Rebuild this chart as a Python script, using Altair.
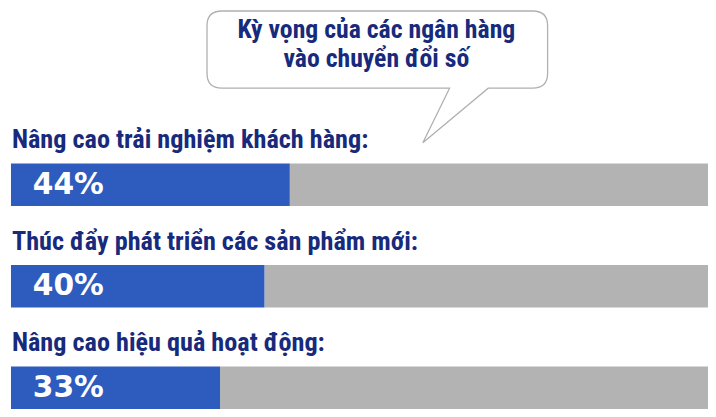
import altair as alt
import pandas as pd

# ---- data ----
categories = [
    "Nâng cao trải nghiệm khách hàng:",
    "Thúc đẩy phát triển các sản phẩm mới:",
    "Nâng cao hiệu quả hoạt động:",
]
values = [44, 40, 33]
pct_labels = ["44%", "40%", "33%"]
title_lines = ["Kỳ vọng của các ngân hàng", "vào chuyển đổi số"]
scale_max = 110

# ---- styles ----
BLUE = "#2d5bbe"
GREY = "#b3b3b3"
NAVY = "#172a7b"
COND = "Roboto Condensed, Lato, sans-serif"
W, H = 704, 405

df = pd.DataFrame({
    "cat": categories,
    "value": values,
    "pct": pct_labels,
    "end": [scale_max] * len(values),
})

xs = alt.Scale(domain=[0, scale_max], nice=False, zero=True)
y = alt.Y("cat:N", sort=categories, axis=None,
          scale=alt.Scale(range=[155, 403], paddingInner=0.58, paddingOuter=0))

base = alt.Chart(df)

grey = base.mark_bar(color=GREY, cornerRadius=0).encode(
    x=alt.X("value:Q", scale=xs, axis=None), x2="end:Q", y=y)
blue = base.mark_bar(color=BLUE, cornerRadius=0).encode(
    x=alt.X("value:Q", scale=xs, axis=None), y=y)
pct = base.mark_text(align="left", baseline="middle", dx=22, font="DejaVu Sans",
                     fontSize=30, fontWeight="bold", color="white").encode(
    x=alt.datum(0), y=y, text="pct:N")
labels = base.mark_text(align="left", baseline="alphabetic", dy=-37, dx=1, font=COND,
                        fontSize=26.5, fontWeight="bold", color=NAVY).encode(
    x=alt.datum(0), y=y, text="cat:N")

# ---- speech bubble (annotation) ----
hw, hh, r = 172.0, 39.0, 15.0
tail = [(112.0, hh), (46.0, 94.0), (73.0, hh)]
s = 200.0
def p(x, y):
    return f"{x / s:.4f} {y / s:.4f}"
path = (
    f"M {p(-hw + r, -hh)} L {p(hw - r, -hh)} Q {p(hw, -hh)} {p(hw, -hh + r)} "
    f"L {p(hw, hh - r)} Q {p(hw, hh)} {p(hw - r, hh)} "
    f"L {p(*tail[0])} L {p(*tail[1])} L {p(*tail[2])} "
    f"L {p(-hw + r, hh)} Q {p(-hw, hh)} {p(-hw, hh - r)} "
    f"L {p(-hw, -hh + r)} Q {p(-hw, -hh)} {p(-hw + r, -hh)} Z"
)
bubble_df = pd.DataFrame({"t": [0]})
bubble = alt.Chart(bubble_df).mark_point(
    shape=path, size=(2 * s) ** 2, filled=True, fill="white", stroke="#b0b0b0",
    strokeWidth=1.3, opacity=1, fillOpacity=1, strokeOpacity=1
).encode(x=alt.value(370), y=alt.value(40))

title_df = pd.DataFrame({"t": ["\n".join(title_lines)]})
title = alt.Chart(title_df).mark_text(
    align="center", baseline="alphabetic", lineBreak="\n", lineHeight=30,
    font=COND, fontSize=26, fontWeight="bold", color=NAVY
).encode(x=alt.value(369), y=alt.value(28), text="t:N")

chart = alt.layer(grey, blue, pct, labels, bubble, title).properties(
    width=W, height=H,
    padding={"left": 3, "top": 0, "right": 0, "bottom": 0},
    autosize="none",
).configure_view(stroke=None)

chart.save("out.html", embed_options={"renderer": "svg", "actions": False})
